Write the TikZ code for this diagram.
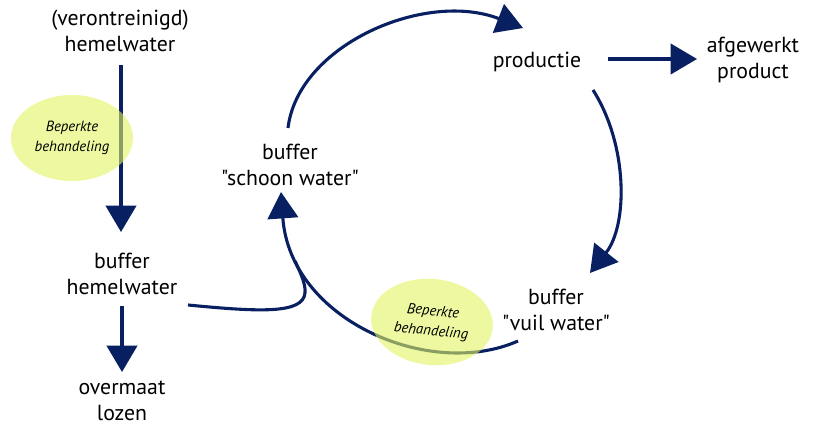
\documentclass[tikz,border=0pt]{standalone}
\usepackage{fontspec}
\newfontfamily\labelfont{PT Sans}
\usetikzlibrary{arrows.meta,shapes.geometric,calc}
\definecolor{flownavy}{RGB}{8,32,98}
\definecolor{treatgreen}{RGB}{227,243,97}

\begin{document}
\begin{tikzpicture}[x=0.025cm,y=-0.025cm,
	every node/.style={font=\labelfont\fontsize{15.5}{18.5}\selectfont, align=center, inner sep=0pt},
	pipe/.style={draw=flownavy, line width=2.2pt},
	flow/.style={pipe, -{Triangle[length=0.66cm,width=0.76cm]}},
	treat/.style={ellipse, fill=treatgreen, fill opacity=0.6, text opacity=1,
		minimum width=3.05cm, minimum height=2.15cm,
		font=\labelfont\itshape\fontsize{10.5}{14}\selectfont}]
	\useasboundingbox (0,0) rectangle (819,425);
	% labels
	\node (src) at (120,31) {(verontreinigd)\\hemelwater};
	\node (bufhw) at (122,274) {buffer\\hemelwater};
	\node (loos) at (122,401) {overmaat\\lozen};
	\node (schoon) at (290,165) {buffer\\"schoon water"};
	\node (prod) at (537,62) {productie};
	\node (eind) at (753,60) {afgewerkt\\product};
	\node (vuil) at (556,310) {buffer\\"vuil water"};
	\coordinate (join) at (295,261);
	% flows
	\draw[flow] ($(src)+(1,34)$) -- ($(bufhw)+(-1,-42)$);
	\draw[flow] ($(bufhw)+(0,32)$) -- ($(loos)+(0,-29)$);
	\draw[flow] ($(prod)+(71,-3)$) -- ($(eind)+(-56,-1)$);
	\draw[flow] ($(schoon)+(-2,-37)$) .. controls (298,45) and (425,-10) .. ($(prod)+(-14,-34)$);
	\draw[flow] ($(prod)+(56,28)$) .. controls (628,145) and (628,225) .. ($(vuil)+(34,-37)$);
	\draw[flow] ($(vuil)+(-38,31)$) .. controls (430,380) and (290,320) .. ($(schoon)+(-9,27)$);
	% hemelwater joins the return line
	\draw[pipe] ($(bufhw)+(66,31)$) .. controls (260,312) and (303,314) .. (305,293)
		.. controls (306,284) and (300,272) .. (join);
	% treatment
	\node[treat] (beh1) at (72,138) {Beperkte\\behandeling};
	\node[treat, rotate=-6] (beh2) at (432,322) {Beperkte\\behandeling};
\end{tikzpicture}
\end{document}
